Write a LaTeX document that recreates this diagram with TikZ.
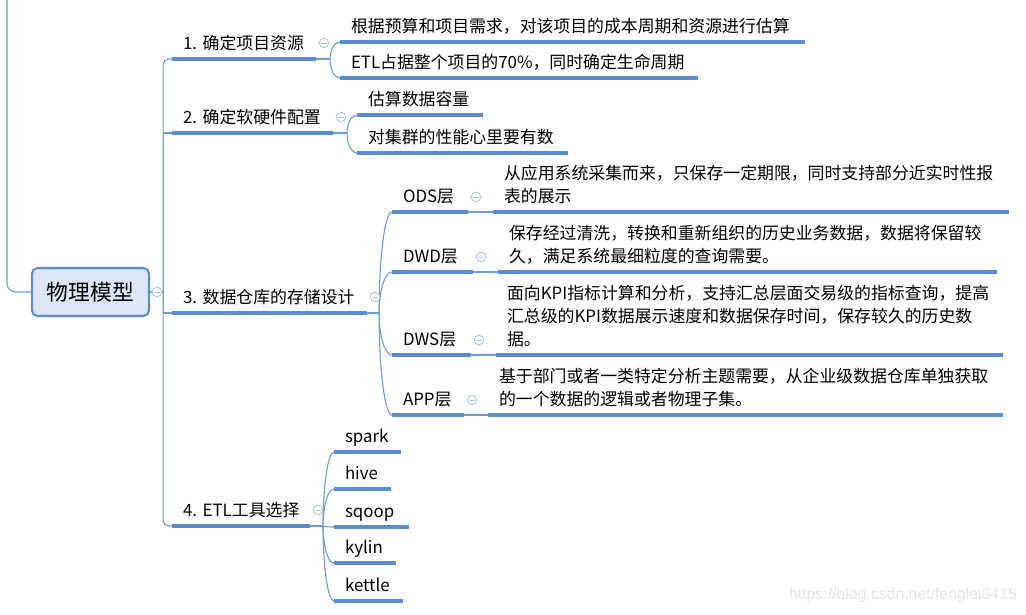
\documentclass[tikz,border=0pt]{standalone}
\usepackage{fontspec}
\setmainfont{Noto Sans CJK SC}
\newfontfamily\markfont{Liberation Sans}
\usetikzlibrary{calc}
\definecolor{lineblue}{HTML}{5B8BD0}
\definecolor{connblue}{HTML}{6C9CDA}
\definecolor{rootfill}{HTML}{DCE6F4}
\definecolor{foldgray}{HTML}{AFC3E4}
\definecolor{markgray}{HTML}{E4E4E4}
\tikzset{
  topic/.style={anchor=south west, inner xsep=0.275cm, inner ysep=1.9pt, outer sep=0pt, align=left,
    font=\fontsize{12pt}{16.35pt}\selectfont, execute at end node=\strut},
  uline/.style={draw=lineblue, line width=2.2pt},
  conn/.style={draw=connblue, line width=0.8pt},
  fold/.style={circle, draw=foldgray, line width=0.6pt, minimum size=0.24cm, inner sep=0pt, fill=white,
    path picture={\draw[foldgray, line width=0.6pt] ([xshift=-0.07cm]path picture bounding box.center) -- ([xshift=0.07cm]path picture bounding box.center);}},
  bracket/.style={to path={.. controls ($(\tikztostart)!0.5!(\tikztostart |- \tikztotarget)$) and ($(\tikztostart |- \tikztotarget)!0.4!(\tikztotarget)$) .. (\tikztotarget)}},
  rootbox/.style={draw=lineblue, line width=1.5pt, fill=rootfill, rounded corners=4pt,
    minimum width=2.925cm, minimum height=1.2cm, font=\fontsize{15.5pt}{18pt}\selectfont}
}
\begin{document}
\begin{tikzpicture}[x=0.025cm,y=-0.025cm]
\useasboundingbox (0,0) rectangle (1026,614);

% root and main branches
\node[rootbox] (root) at (90.5,292) {物理模型};
\node[topic, text width=3.05cm] (b1) at (172,59) {1.~确定项目资源};
\node[topic, text width=3.475cm] (b2) at (172,133) {2.~确定软硬件配置};
\node[topic, text width=4.325cm] (b3) at (172,313) {3.~数据仓库的存储设计};
\node[topic, text width=2.9cm] (b4) at (172,526) {4.~ETL工具选择};

% branch 1
\node[topic, text width=11.075cm] (c11) at (340,42) {根据预算和项目需求，对该项目的成本周期和资源进行估算};
\node[topic, text width=8.4cm] (c12) at (340,78) {ETL占据整个项目的70\%，同时确定生命周期};

% branch 2
\node[topic, text width=2.6cm] (c21) at (357,115) {估算数据容量};
\node[topic, text width=4.725cm] (c22) at (357,153) {对集群的性能心里要有数};

% branch 3
\node[topic, text width=1.35cm] (ods) at (392,212) {ODS层};
\node[topic, text width=1.475cm] (dwd) at (392,272) {DWD层};
\node[topic, text width=1.425cm] (dws) at (392,355) {DWS层};
\node[topic, text width=1.25cm] (app) at (392,415) {APP层};
\node[topic, text width=12.35cm] (odsd) at (493,212) {从应用系统采集而来，只保存一定期限，同时支持部分近实时性报\\表的展示};
\node[topic, text width=11.925cm] (dwdd) at (498,272) {保存经过清洗，转换和重新组织的历史业务数据，数据将保留较\\久，满足系统最细粒度的查询需要。};
\node[topic, text width=12.125cm] (dwsd) at (496,355) {面向KPI指标计算和分析，支持汇总层面交易级的指标查询，提高\\汇总级的KPI数据展示速度和数据保存时间，保存较久的历史数\\据。};
\node[topic, text width=12.325cm] (appd) at (488,415) {基于部门或者一类特定分析主题需要，从企业级数据仓库单独获取\\的一个数据的逻辑或者物理子集。};

% branch 4
\node[topic, text width=1.125cm] (spark) at (334,452) {spark};
\node[topic, text width=0.875cm] (hive) at (334,489) {hive};
\node[topic, text width=1.325cm] (sqoop) at (334,527) {sqoop};
\node[topic, text width=1.0cm] (kylin) at (334,563) {kylin};
\node[topic, text width=1.175cm] (kettle) at (334,601) {kettle};

% connectors
\coordinate (up) at (7,-2);
\draw[conn, rounded corners=6pt] (up) |- (root.west);
\draw[conn] (root.east) -- ++(13,0) coordinate (rj);
\draw[conn, rounded corners=4pt] (rj) |- (b1.south west);
\draw[conn] (rj) |- (b2.south west);
\draw[conn] (rj) |- (b3.south west);
\draw[conn, rounded corners=4pt] (rj) |- (b4.south west);

\draw[conn] (b1.south east) -- ++(14,0) coordinate (j1);
\draw[conn] (j1) to[bracket] (c11.south west);
\draw[conn] (j1) to[bracket] (c12.south west);

\draw[conn] (b2.south east) -- ++(14,0) coordinate (j2);
\draw[conn] (j2) to[bracket] (c21.south west);
\draw[conn] (j2) to[bracket] (c22.south west);

\draw[conn] (b3.south east) -- ++(12,0) coordinate (j3);
\draw[conn] (j3) to[bracket] (ods.south west);
\draw[conn] (j3) to[bracket] (dwd.south west);
\draw[conn] (j3) to[bracket] (dws.south west);
\draw[conn] (j3) to[bracket] (app.south west);
\draw[conn] (ods.south east) -- (odsd.south west);
\draw[conn] (dwd.south east) -- (dwdd.south west);
\draw[conn] (dws.south east) -- (dwsd.south west);
\draw[conn] (app.south east) -- (appd.south west);

\draw[conn] (b4.south east) -- ++(13,0) coordinate (j4);
\draw[conn] (j4) to[bracket] (spark.south west);
\draw[conn] (j4) to[bracket] (hive.south west);
\draw[conn] (j4) to[bracket] (sqoop.south west);
\draw[conn] (j4) to[bracket] (kylin.south west);
\draw[conn] (j4) to[bracket] (kettle.south west);

% underlines
\draw[uline] (b1.south west) -- (b1.south east);
\draw[uline] (b2.south west) -- (b2.south east);
\draw[uline] (b3.south west) -- (b3.south east);
\draw[uline] (b4.south west) -- (b4.south east);
\draw[uline] (c11.south west) -- (c11.south east);
\draw[uline] (c12.south west) -- (c12.south east);
\draw[uline] (c21.south west) -- (c21.south east);
\draw[uline] (c22.south west) -- (c22.south east);
\draw[uline] (ods.south west) -- (ods.south east);
\draw[uline] (dwd.south west) -- (dwd.south east);
\draw[uline] (dws.south west) -- (dws.south east);
\draw[uline] (app.south west) -- (app.south east);
\draw[uline] (odsd.south west) -- (odsd.south east);
\draw[uline] (dwdd.south west) -- (dwdd.south east);
\draw[uline] (dwsd.south west) -- (dwsd.south east);
\draw[uline] (appd.south west) -- (appd.south east);
\draw[uline] (spark.south west) -- (spark.south east);
\draw[uline] (hive.south west) -- (hive.south east);
\draw[uline] (sqoop.south west) -- (sqoop.south east);
\draw[uline] (kylin.south west) -- (kylin.south east);
\draw[uline] (kettle.south west) -- (kettle.south east);

% fold buttons
\node[fold] (f0) at ([shift={(7,0)}]root.east) {};
\node[fold] (f1) at ([shift={(8,-16)}]b1.south east) {};
\node[fold] (f2) at ([shift={(8,-16)}]b2.south east) {};
\node[fold] (f3) at ([shift={(8,-16)}]b3.south east) {};
\node[fold] (f4) at ([shift={(8,-16)}]b4.south east) {};
\node[fold] (f5) at ([shift={(8,-15)}]ods.south east) {};
\node[fold] (f6) at ([shift={(8,-15)}]dwd.south east) {};
\node[fold] (f7) at ([shift={(8,-15)}]dws.south east) {};
\node[fold] (f8) at ([shift={(8,-15)}]app.south east) {};

\node[text=markgray, font=\markfont\fontsize{11.25pt}{13pt}\selectfont] (mark) at (903,595) {https://blog.csdn.net/fenglei0415};
\end{tikzpicture}
\end{document}
